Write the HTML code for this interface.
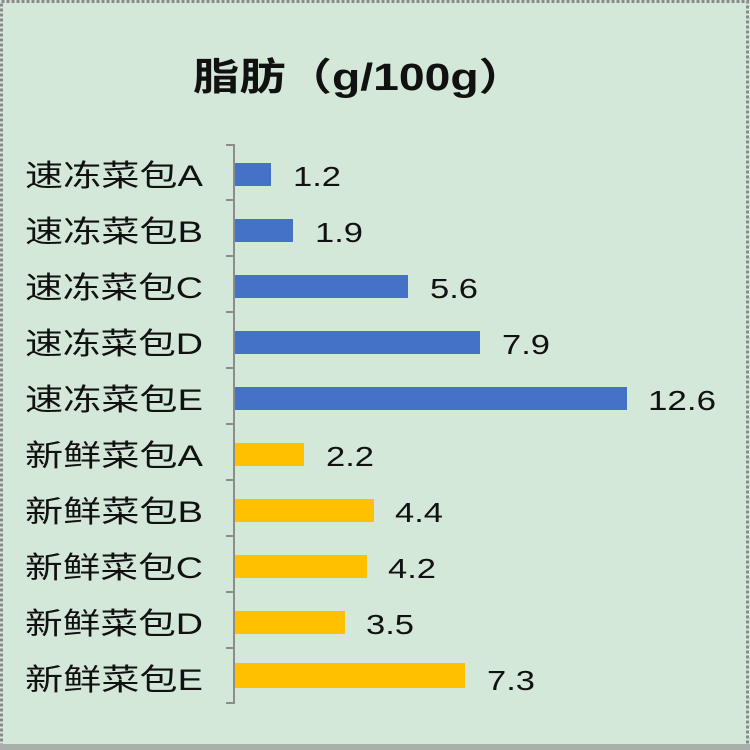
<!DOCTYPE html>
<html><head><meta charset="utf-8"><style>
body{margin:0;background:#fff;}
svg{display:block;}
text{font-family:"Liberation Sans","Noto Sans CJK SC",sans-serif;fill:#111;}
</style></head><body>
<svg width="750" height="750" xmlns="http://www.w3.org/2000/svg">
<rect x="0" y="0" width="750" height="750" fill="#d4e8da"/>
<rect x="1.5" y="1.5" width="746" height="744" fill="none" stroke="#8a8a8a" stroke-width="3" stroke-dasharray="3,2"/>
<rect x="0" y="744" width="750" height="6" fill="#a9b0ab"/>
<text x="193" y="90" font-size="38" font-weight="bold" textLength="332" lengthAdjust="spacingAndGlyphs">脂肪（g/100g）</text>
<g stroke="#8c8c8c" stroke-width="2">
<line x1="234" y1="144" x2="234" y2="704"/>
<line x1="226" y1="145" x2="234" y2="145"/><line x1="226" y1="200" x2="234" y2="200"/><line x1="226" y1="256" x2="234" y2="256"/><line x1="226" y1="312" x2="234" y2="312"/><line x1="226" y1="368" x2="234" y2="368"/><line x1="226" y1="424" x2="234" y2="424"/><line x1="226" y1="480" x2="234" y2="480"/><line x1="226" y1="536" x2="234" y2="536"/><line x1="226" y1="592" x2="234" y2="592"/><line x1="226" y1="648" x2="234" y2="648"/><line x1="226" y1="703" x2="234" y2="703"/>
</g>
<g font-size="30">
<text x="25" y="186" textLength="178" lengthAdjust="spacingAndGlyphs">速冻菜包A</text>
<text x="25" y="242" textLength="178" lengthAdjust="spacingAndGlyphs">速冻菜包B</text>
<text x="25" y="298" textLength="178" lengthAdjust="spacingAndGlyphs">速冻菜包C</text>
<text x="25" y="354" textLength="178" lengthAdjust="spacingAndGlyphs">速冻菜包D</text>
<text x="25" y="410" textLength="178" lengthAdjust="spacingAndGlyphs">速冻菜包E</text>
<text x="25" y="466" textLength="178" lengthAdjust="spacingAndGlyphs">新鲜菜包A</text>
<text x="25" y="522" textLength="178" lengthAdjust="spacingAndGlyphs">新鲜菜包B</text>
<text x="25" y="578" textLength="178" lengthAdjust="spacingAndGlyphs">新鲜菜包C</text>
<text x="25" y="634" textLength="178" lengthAdjust="spacingAndGlyphs">新鲜菜包D</text>
<text x="25" y="690" textLength="178" lengthAdjust="spacingAndGlyphs">新鲜菜包E</text>
</g>
<g fill="#4472c4">
<rect x="235" y="163" width="36" height="23"/>
<rect x="235" y="219" width="58" height="23"/>
<rect x="235" y="275" width="173" height="23"/>
<rect x="235" y="331" width="245" height="23"/>
<rect x="235" y="387" width="392" height="23"/>
</g>
<g fill="#ffc000">
<rect x="235" y="443" width="69" height="23"/>
<rect x="235" y="499" width="139" height="23"/>
<rect x="235" y="555" width="132" height="23"/>
<rect x="235" y="611" width="110" height="23"/>
<rect x="235" y="663" width="230" height="25"/>
</g>
<g font-size="28">
<text x="293" y="186" textLength="48" lengthAdjust="spacingAndGlyphs">1.2</text>
<text x="315" y="242" textLength="48" lengthAdjust="spacingAndGlyphs">1.9</text>
<text x="430" y="298" textLength="48" lengthAdjust="spacingAndGlyphs">5.6</text>
<text x="502" y="354" textLength="48" lengthAdjust="spacingAndGlyphs">7.9</text>
<text x="648" y="410" textLength="68" lengthAdjust="spacingAndGlyphs">12.6</text>
<text x="326" y="466" textLength="48" lengthAdjust="spacingAndGlyphs">2.2</text>
<text x="395" y="522" textLength="48" lengthAdjust="spacingAndGlyphs">4.4</text>
<text x="388" y="578" textLength="48" lengthAdjust="spacingAndGlyphs">4.2</text>
<text x="366" y="634" textLength="48" lengthAdjust="spacingAndGlyphs">3.5</text>
<text x="487" y="690" textLength="48" lengthAdjust="spacingAndGlyphs">7.3</text>
</g>
</svg>
</body></html>
